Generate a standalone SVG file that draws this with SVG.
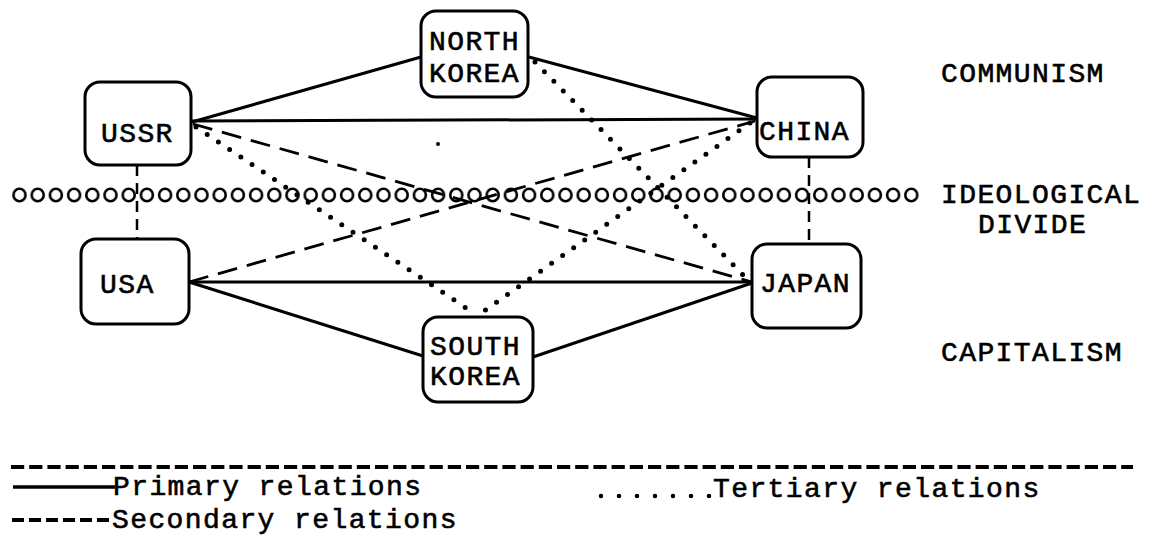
<svg xmlns="http://www.w3.org/2000/svg" width="1158" height="542" viewBox="0 0 1158 542">
  <style>
    .box { fill: #fff; stroke: #000; stroke-width: 3; }
    .lbl { font-family: "Liberation Mono", "DejaVu Sans Mono", monospace; font-size: 28px; letter-spacing: 1.4px; fill: #000; stroke: #000; stroke-width: 0.6; }
    .primary { stroke: #000; stroke-width: 3; fill: none; }
    .secondary { stroke: #000; stroke-width: 2.8; fill: none; stroke-dasharray: 20 10; }
    .tertiary { stroke: #000; stroke-width: 5; fill: none; stroke-dasharray: 0 13.5; stroke-linecap: round; }
    .link { stroke: #000; stroke-width: 2.5; fill: none; stroke-dasharray: 11 7; }
  </style>
  <defs>
    <pattern id="divideRing" x="10.4" y="180" width="18.2" height="30" patternUnits="userSpaceOnUse">
      <ellipse cx="9.1" cy="15" rx="6" ry="6.3" fill="none" stroke="#000" stroke-width="2.6"/>
    </pattern>
  </defs>

  <rect width="1158" height="542" fill="#fff"/>

  <!-- ideological divide: a row of rings -->
  <g id="divide">
    <rect x="10.4" y="180" width="910" height="30" fill="url(#divideRing)"/>
  </g>

  <!-- connectors -->
  <g id="connectors">
    <!-- primary relations -->
    <line class="primary" x1="192" y1="122" x2="421" y2="57"/>
    <line class="primary" x1="529" y1="57" x2="757" y2="118"/>
    <line class="primary" x1="192" y1="121" x2="757" y2="119"/>
    <line class="primary" x1="189" y1="282" x2="752" y2="282"/>
    <line class="primary" x1="189" y1="282" x2="423" y2="356"/>
    <line class="primary" x1="533" y1="357" x2="752" y2="283"/>
    <!-- secondary relations -->
    <line class="secondary" x1="193" y1="124" x2="752" y2="282"/>
    <line class="secondary" x1="189" y1="282" x2="755" y2="121"/>
    <line class="link" x1="137" y1="165" x2="137" y2="239"/>
    <line class="link" x1="809" y1="157" x2="809" y2="244"/>
    <!-- tertiary relations -->
    <line class="tertiary" x1="535" y1="62" x2="748" y2="280"/>
    <line class="tertiary" x1="196" y1="127" x2="475" y2="314"/>
    <line class="tertiary" x1="750" y1="123" x2="480" y2="314"/>
    <circle cx="438" cy="144" r="2" fill="#000"/>
  </g>

  <g id="north-korea">
    <rect class="box" x="421" y="11" width="107" height="86" rx="15"/>
    <text class="lbl" x="429" y="50">NORTH</text>
    <text class="lbl" x="429" y="82">KOREA</text>
  </g>
  <g id="ussr">
    <rect class="box" x="85" y="82" width="106" height="83" rx="15"/>
    <text class="lbl" x="101" y="142">USSR</text>
  </g>
  <g id="china">
    <rect class="box" x="757" y="77" width="106" height="80" rx="15"/>
    <text class="lbl" x="759" y="140">CHINA</text>
  </g>
  <g id="usa">
    <rect class="box" x="81" y="239" width="108" height="85" rx="15"/>
    <text class="lbl" x="100" y="293">USA</text>
  </g>
  <g id="japan">
    <rect class="box" x="752" y="244" width="109" height="84" rx="15"/>
    <text class="lbl" x="760" y="292">JAPAN</text>
  </g>
  <g id="south-korea">
    <rect class="box" x="423" y="317" width="110" height="85" rx="15"/>
    <text class="lbl" x="430" y="355">SOUTH</text>
    <text class="lbl" x="430" y="385">KOREA</text>
  </g>

  <!-- side captions -->
  <g id="captions">
    <text class="lbl" x="941" y="82">COMMUNISM</text>
    <text class="lbl" x="941" y="203">IDEOLOGICAL</text>
    <text class="lbl" x="978" y="233">DIVIDE</text>
    <text class="lbl" x="941" y="361">CAPITALISM</text>
  </g>

  <!-- key -->
  <g id="legend">
    <line x1="11" y1="467" x2="1133" y2="467" stroke="#000" stroke-width="4" stroke-dasharray="13.2 5"/>
    <line x1="13" y1="487" x2="115" y2="487" stroke="#000" stroke-width="3.5"/>
    <text class="lbl" x="113" y="495">Primary relations</text>
    <line x1="12" y1="520" x2="114" y2="520" stroke="#000" stroke-width="4" stroke-dasharray="12 5"/>
    <text class="lbl" x="112" y="528">Secondary relations</text>
    <line x1="601" y1="496" x2="710" y2="496" stroke="#000" stroke-width="4.6" stroke-dasharray="0 18" stroke-linecap="round"/>
    <text class="lbl" x="713" y="497">Tertiary relations</text>
  </g>
</svg>
